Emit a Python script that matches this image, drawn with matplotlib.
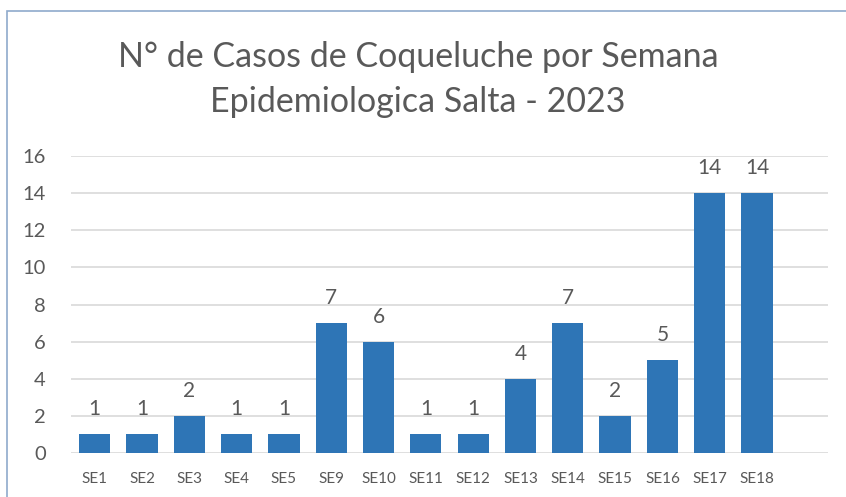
import matplotlib
matplotlib.use("Agg")
import matplotlib.pyplot as plt
from matplotlib.patches import Rectangle

categories = ["SE1", "SE2", "SE3", "SE4", "SE5", "SE9", "SE10", "SE11", "SE12",
              "SE13", "SE14", "SE15", "SE16", "SE17", "SE18"]
values = [1, 1, 2, 1, 1, 7, 6, 1, 1, 4, 7, 2, 5, 14, 14]
yticks = [0, 2, 4, 6, 8, 10, 12, 14, 16]

plt.rcParams['font.family'] = ['Lato', 'DejaVu Sans']
txt = '#595959'
bar_color = '#2E75B6'

fig = plt.figure(figsize=(8.46, 4.97), dpi=100)
fig.patch.set_facecolor('white')
# chart frame (left and top edges visible)
fig.add_artist(Rectangle((7/846, -0.1), 1.2, 1 - 11/497 + 0.1, transform=fig.transFigure,
                         fill=False, edgecolor='#8FAACC', linewidth=1.2))

ax = fig.add_axes([71/846, 1 - 453/497, (828 - 71)/846, (453 - 156)/497])
x = list(range(len(categories)))
bars = ax.bar(x, values, width=0.66, color=bar_color, zorder=3)
for xi, v in zip(x, values):
    ax.text(xi, v + 1.35, str(v), ha='center', va='center', fontsize=15, color=txt)

ax.set_xlim(-0.5, len(categories) + 0.5)
ax.set_ylim(0, 16)
ax.set_yticks(yticks)
ax.set_yticklabels([str(t) for t in yticks], fontsize=14.5, color=txt)
ax.set_xticks(x)
ax.set_xticklabels(categories, fontsize=11, color=txt)
ax.tick_params(axis='both', length=0)
ax.tick_params(axis='y', pad=18)
ax.tick_params(axis='x', pad=14)
ax.yaxis.grid(True, color='#D9D9D9', linewidth=1.2, zorder=0)
for s in ax.spines.values():
    s.set_visible(False)
ax.set_facecolor('none')

fig.text(418/846, 1 - 57/497, "N° de Casos de Coqueluche por Semana", ha='center', va='center',
         fontsize=24.5, color=txt)
fig.text(418/846, 1 - 102/497, "Epidemiologica Salta - 2023", ha='center', va='center',
         fontsize=24.5, color=txt)

fig.savefig("out.png", dpi=100)
